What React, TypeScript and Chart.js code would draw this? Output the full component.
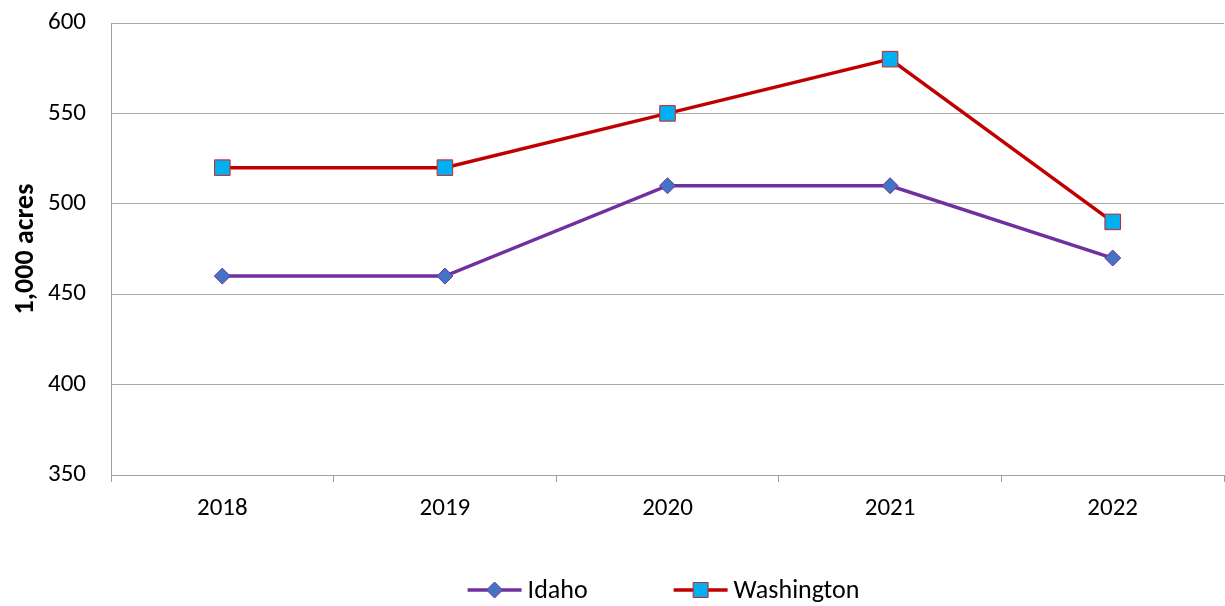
import React, { useEffect, useRef } from "react";
import { Chart, registerables } from "chart.js";

Chart.register(...registerables);

const categories = ["2018", "2019", "2020", "2021", "2022"];
const idahoValues = [460, 460, 510, 510, 470];
const washingtonValues = [520, 520, 550, 580, 490];
const yTicks = [350, 400, 450, 500, 550, 600];
const yTitle = "1,000 acres";

const FONT = "Carlito, Calibri, Lato, 'Noto Sans', sans-serif";

const legendPlugin = {
  id: "excelLegend",
  afterDraw(chart: any) {
    const ctx = chart.ctx;
    const ds = chart.data.datasets;
    const lineW = 54;
    const gapText = 6;
    const itemGap = 86;
    ctx.save();
    ctx.font = `26px ${FONT}`;
    const widths = ds.map((d: any) => lineW + gapText + ctx.measureText(d.label).width);
    const total = widths.reduce((a: number, b: number) => a + b, 0) + itemGap * (ds.length - 1);
    const ca = chart.chartArea;
    let x = (ca.left + ca.right) / 2 - total / 2 - 4;
    const y = 590;
    ds.forEach((d: any, i: number) => {
      ctx.strokeStyle = d.borderColor;
      ctx.lineWidth = d.borderWidth;
      ctx.beginPath();
      ctx.moveTo(x, y);
      ctx.lineTo(x + lineW, y);
      ctx.stroke();
      const cx = x + lineW / 2;
      ctx.fillStyle = d.pointBackgroundColor;
      ctx.strokeStyle = d.pointBorderColor;
      ctx.lineWidth = 1;
      ctx.beginPath();
      if (d.pointStyle === "rectRot") {
        ctx.moveTo(cx, y - 8);
        ctx.lineTo(cx + 8, y);
        ctx.lineTo(cx, y + 8);
        ctx.lineTo(cx - 8, y);
        ctx.closePath();
      } else {
        ctx.rect(cx - 7.5, y - 7.5, 15, 15);
      }
      ctx.fill();
      ctx.stroke();
      ctx.fillStyle = "#000";
      ctx.textBaseline = "middle";
      ctx.textAlign = "left";
      ctx.fillText(d.label, x + lineW + gapText, y + 1);
      x += widths[i] + itemGap;
    });
    ctx.restore();
  },
};

export default function App() {
  const ref = useRef<HTMLCanvasElement | null>(null);
  useEffect(() => {
    if (!ref.current) return;
    const chart = new Chart(ref.current, {
      type: "line",
      data: {
        labels: categories,
        datasets: [
          {
            label: "Idaho",
            data: idahoValues,
            borderColor: "#7030A0",
            borderWidth: 3.5,
            backgroundColor: "#4472C4",
            pointStyle: "rectRot",
            pointRadius: 8,
            pointBorderColor: "#7030A0",
            pointBorderWidth: 1,
            pointBackgroundColor: "#4472C4",
            tension: 0,
          },
          {
            label: "Washington",
            data: washingtonValues,
            borderColor: "#C00000",
            borderWidth: 3.5,
            backgroundColor: "#00B0F0",
            pointStyle: "rect",
            pointRadius: 11,
            pointBorderColor: "#D02020",
            pointBorderWidth: 1,
            pointBackgroundColor: "#00B0F0",
            tension: 0,
          },
        ],
      },
      plugins: [legendPlugin],
      options: {
        responsive: false,
        animation: false,
        layout: { autoPadding: false, padding: { top: 23, right: 1, left: 0, bottom: 40 } },
        plugins: {
          tooltip: { enabled: false },
          legend: { display: false },
        },
        scales: {
          x: {
            offset: true,
            grid: {
              offset: true,
              drawOnChartArea: false,
              color: "#a0a0a0",
              tickLength: 7,
            },
            border: { color: "#a0a0a0" },
            ticks: { color: "#000", font: { family: FONT, size: 25 }, padding: 12 },
            afterFit: (s: any) => {
              s.height = 91;
              s.paddingLeft = 0;
              s.paddingRight = 0;
            },
          },
          y: {
            min: 350,
            max: 600,
            afterBuildTicks: (s: any) => {
              s.ticks = yTicks.map((v) => ({ value: v }));
            },
            grid: { color: "#a8a8a8", drawTicks: false },
            border: { color: "#a0a0a0" },
            ticks: { color: "#000", font: { family: FONT, size: 25 }, padding: 25 },
            title: {
              display: true,
              text: yTitle,
              color: "#000",
              font: { family: FONT, size: 28, weight: "bold" },
              padding: { top: 9, bottom: 0 },
            },
            afterFit: (s: any) => {
              s.width = 111;
              s.paddingTop = 0;
              s.paddingBottom = 0;
            },
          },
        },
      },
    });
    return () => chart.destroy();
  }, []);
  return (
    <div style={{ position: "absolute", left: 0, top: 0, width: 1225, height: 606, background: "#fff" }}>
      <canvas ref={ref} width={1225} height={606} />
    </div>
  );
}
